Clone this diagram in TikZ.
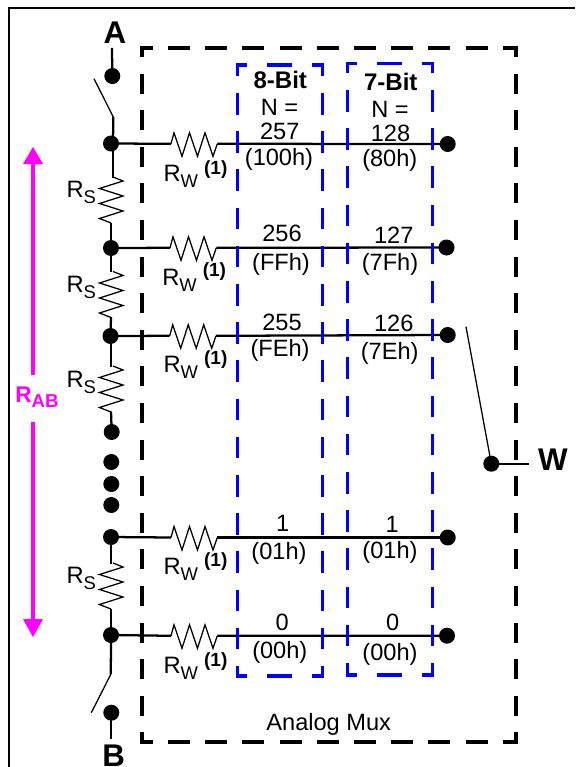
\documentclass[tikz,border=0pt]{standalone}
\usepackage{fontspec}
\setmainfont{Liberation Sans}
\definecolor{mag}{RGB}{255,0,255}
\definecolor{blu}{RGB}{0,0,255}
\newcommand{\fs}[1]{\fontsize{#1}{#1}\selectfont}
\newcommand{\Rlab}[1]{{\fs{17.8pt}R}\raisebox{-4.5pt}{\fs{13.8pt}#1}}
\tikzset{
  dot/.style={circle,fill=black,draw=none,inner sep=0pt,minimum size=12pt},
  wire/.style={line width=1.7pt,line join=miter},
  thin wire/.style={line width=0.95pt,line join=miter},
  blackh/.style={line width=2.6pt,dash pattern=on 16.5pt off 11.4pt,dash phase=7.125pt},
  blackv/.style={line width=2.6pt,dash pattern=on 15pt off 12.45pt,dash phase=7.5pt},
  blueh/.style={blu,line width=2.6pt,dash pattern=on 8.6pt off 15pt on 18.75pt off 15pt on 8.6pt},
  bluev/.style={blu,line width=2.6pt,dash pattern=on 16.125pt off 12.525pt,dash phase=7.65pt},
  txt/.style={anchor=base,inner sep=0pt,font=\fs{17.7pt}},
  btxt/.style={anchor=base,inner sep=0pt,font=\fs{18pt}\bfseries},
  big/.style={anchor=base,inner sep=0pt,font=\fs{23.5pt}\bfseries},
  rlab/.style={anchor=base west,inner sep=0pt},
  one/.style={anchor=base west,inner sep=0pt,font=\fs{14.3pt}\bfseries},
  mag arrow/.style={mag,line width=2.6pt},
}
\begin{document}
\begin{tikzpicture}[x=0.75pt,y=-0.75pt]
\useasboundingbox (0,0) rectangle (575,767);
% frame
\draw[line width=2pt] (9,767) -- (9,8) -- (575,8);
% dots
\node[dot] (A) at (112.3,76) {};
\node[dot] (L1) at (111,143.5) {};
\node[dot] (L2) at (111,248) {};
\node[dot] (L3) at (110.5,336) {};
\node[dot] (L4) at (111.7,432) {};
\node[dot] (D1) at (111.3,462) {};
\node[dot] (D2) at (111.3,484) {};
\node[dot] (D3) at (111.3,505) {};
\node[dot] (L5) at (111,537) {};
\node[dot] (L6) at (111,635) {};
\node[dot] (B) at (111.3,712.7) {};
\node[dot] (R1) at (447.7,144) {};
\node[dot] (R2) at (446.5,247.5) {};
\node[dot] (R3) at (447.7,335) {};
\node[dot] (R5) at (447.7,537.5) {};
\node[dot] (R6) at (447,635.7) {};
\node[dot] (Wd) at (491.3,463.7) {};
% terminals
\coordinate (At) at (112,48);
\coordinate (Bt) at (111.3,739);
\coordinate (Wt) at (529,463.7);
\draw[wire] (At) -- (A.center);
\draw[wire] (Bt) -- (B.center);
\draw[wire] (Wt) -- (Wd.center);
% switches
\coordinate (SA) at (113.3,117);
\coordinate (SAf) at (94,78.7);
\coordinate (SB) at (110.8,674.3);
\coordinate (SBf) at (91.3,712.7);
\coordinate (SW) at (466,326.7);
\draw[thin wire] (SAf) -- (SA);
\draw[wire] (SA) -- (113,143.5);
\draw[thin wire] (SBf) -- (SB);
\draw[wire] (SB) -- (L6.center);
\draw[thin wire] (SW) -- (Wd.center);
% series resistors
\foreach \o in {0,94.5,189,386}{
  \begin{scope}[yshift=-0.75pt*\o]
    \coordinate (st) at (113,177);
    \coordinate (en) at (111,223);
    \draw[thin wire] (st) -- (123,181) -- (99.5,188.5) -- (123,196) -- (99.5,203.5) -- (123,211) -- (99.5,218.5) -- (en);
  \end{scope}
}
\draw[wire] (112.7,143.5) -- (112.7,177.5);
\draw[wire] (111,222.5) -- (L2.center);
\draw[wire] (111,248) -- (111,272);
\draw[wire] (111,317) -- (L3.center);
\draw[wire] (111,336) -- (111,366.5);
\draw[wire] (111,411.5) -- (L4.center);
\draw[wire] (111,537) -- (111,563.5);
\draw[wire] (111,608.5) -- (L6.center);
% horizontal rows with wiper resistors
\foreach \n/\y/\s/\r in {1/143.8/0/R1,2/247.8/-1/R2,3/335.8/-1.3/R3,5/537.5/0/R5,6/635.8/0/R6}{
  \coordinate (p) at (171+\s,\y);
  \coordinate (q) at (217.3+\s,\y);
  \draw[wire] (L\n.center) -- (p);
  \draw[thin wire] (p) -- (174+\s,\y-11) -- (182+\s,\y+12.5) -- (189.5+\s,\y-11) -- (197.5+\s,\y+12.5) -- (205+\s,\y-11) -- (213+\s,\y+12.5) -- (q);
  \draw[wire] (q) -- (\r.center);
}
% black dashed box
\draw[blackh] (140.3,48) -- (517.7,48);
\draw[blackh] (140.3,742) -- (517.7,742);
\draw[blackv] (142,47) -- (142,742);
\draw[blackv] (516,47) -- (516,742);
% blue dashed boxes
\draw[blueh] (236,65) -- (324,65);
\draw[blueh] (236,676) -- (324,676);
\draw[bluev] (237.5,65) -- (237.5,676);
\draw[bluev] (322.5,65) -- (322.5,676);
\draw[blueh] (346,63.5) -- (434,63.5);
\draw[blueh] (346,675) -- (434,675);
\begin{scope}[yshift=1.125pt]
\draw[bluev] (347.5,63.5) -- (347.5,674);
\draw[bluev] (432.5,63.5) -- (432.5,674);
\end{scope}
% magenta arrow
\node[anchor=base,inner sep=0pt,text=mag,font=\fs{17pt}\bfseries] (RAB) at (37,402.5) {R\raisebox{-3.5pt}{\fs{14pt}AB}};
\coordinate (Mt) at (33,160);
\coordinate (Mb) at (33,622);
\coordinate (Ma) at (33,375);
\coordinate (Mc) at (33,422);
\draw[mag arrow] (Mt) -- (Ma);
\draw[mag arrow] (Mc) -- (Mb);
\fill[mag] (33,147) -- (43,164) -- (23,164) -- cycle;
\fill[mag] (33,637) -- (43,619) -- (23,619) -- cycle;
% terminal labels
\node[big] (tA) at (115,43.3) {A};
\node[big] (tB) at (113.8,766.5) {B};
\node[big] (tW) at (553,470.7) {W};
% RS labels
\foreach \n/\y in {1/197.3,2/292.3,3/387.3,4/583.3}{
  \node[rlab] (rs\n) at (66.3,\y) {\Rlab{S}};
}
% RW labels
\foreach \n/\x/\y/\ya in {1/163.3/181.7/174,2/162/285/276.7,3/163.3/372.3/364,4/163.3/574/566,5/163.3/673.3/666.7}{
  \node[rlab] (rw\n) at (\x,\y) {\Rlab{W}};
  \node[one] (o\n) at (\x+40.5,\ya) {(1)};
}
% column text
\node[btxt] (h8) at (280.3,88.3) {8-Bit};
\node[btxt] (h7) at (390.8,90.7) {7-Bit};
\node[txt] (n8) at (279.5,115) {N =};
\node[txt] (n7) at (390,117.7) {N =};
\node[txt] (a1) at (279.7,139.3) {257};
\node[txt] (b1) at (390.5,141) {128};
\node[txt] (c1) at (279,165.7) {(100h)};
\node[txt] (d1) at (389.8,166.7) {(80h)};
\node[txt] (a2) at (282,241.7) {256};
\node[txt] (b2) at (393.7,243) {127};
\node[txt] (c2) at (281,270) {(FFh)};
\node[txt] (d2) at (390,270) {(7Fh)};
\node[txt] (a3) at (282,330.7) {255};
\node[txt] (b3) at (393.7,331.7) {126};
\node[txt] (c3) at (280,356.7) {(FEh)};
\node[txt] (d3) at (389.7,359) {(7Eh)};
\node[txt] (a5) at (282.7,531.7) {1};
\node[txt] (b5) at (392.3,532.7) {1};
\node[txt] (c5) at (279,559.3) {(01h)};
\node[txt] (d5) at (390,558) {(01h)};
\node[txt] (a6) at (282.3,630) {0};
\node[txt] (b6) at (392.7,630.7) {0};
\node[txt] (c6) at (279.8,658.3) {(00h)};
\node[txt] (d6) at (390,660) {(00h)};
\node[txt] (mux) at (328.7,730.7) {Analog Mux};
\end{tikzpicture}
\end{document}
